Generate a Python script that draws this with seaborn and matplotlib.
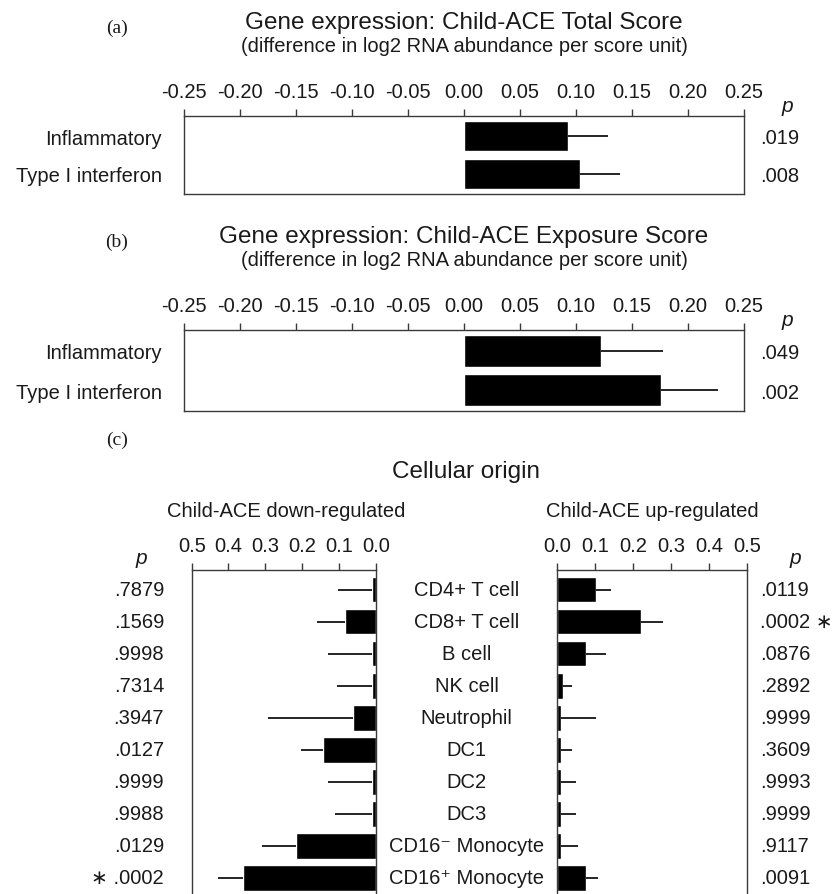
import numpy as np
import pandas as pd
import matplotlib
matplotlib.use("Agg")
import matplotlib.pyplot as plt
import matplotlib.transforms as mtransforms
import seaborn as sns

# data
gene_sets = ["Inflammatory", "Type I interferon"]

total_est = [0.093, 0.104]
total_hi = [0.129, 0.139]
total_p = [".019", ".008"]

expo_est = [0.122, 0.176]
expo_hi = [0.178, 0.227]
expo_p = [".049", ".002"]

gene_ticks = [-0.25, -0.20, -0.15, -0.10, -0.05, 0.00, 0.05, 0.10, 0.15, 0.20, 0.25]
cell_ticks = [0.0, 0.1, 0.2, 0.3, 0.4, 0.5]

cells = ["CD4+ T cell", "CD8+ T cell", "B cell", "NK cell", "Neutrophil",
         "DC1", "DC2", "DC3", "CD16\u207b Monocyte", "CD16\u207a Monocyte"]

down_est = [0.011, 0.083, 0.010, 0.010, 0.061, 0.144, 0.010, 0.010, 0.217, 0.361]
down_hi = [0.102, 0.160, 0.129, 0.106, 0.292, 0.204, 0.129, 0.111, 0.310, 0.428]
down_p = [".7879", ".1569", ".9998", ".7314", ".3947",
          ".0127", ".9999", ".9988", ".0129", "\u2217 .0002"]

up_est = [0.102, 0.220, 0.077, 0.014, 0.010, 0.010, 0.010, 0.010, 0.010, 0.077]
up_hi = [0.143, 0.278, 0.128, 0.038, 0.102, 0.038, 0.049, 0.049, 0.055, 0.108]
up_p = [".0119", ".0002 \u2217", ".0876", ".2892", ".9999",
        ".3609", ".9993", ".9999", ".9117", ".0091"]

sns.set_theme(style="white")
plt.rcParams["font.family"] = ["Liberation Sans", "DejaVu Sans"]
plt.rcParams["text.color"] = "#1a1a1a"
plt.rcParams["xtick.color"] = "#1a1a1a"
plt.rcParams["ytick.color"] = "#1a1a1a"

W, H = 832, 895
fig = plt.figure(figsize=(W / 100, H / 100), dpi=100)
fig.patch.set_facecolor("white")


def box(l, t, r, b):
    return fig.add_axes([l / W, 1 - b / H, (r - l) / W, (b - t) / H])


def ftext(x, y, s, **kw):
    fig.text(x / W, 1 - y / H, s, **kw)


def style_axes(ax):
    for sp in ax.spines.values():
        sp.set_color("#3a3a3a")
        sp.set_linewidth(1.0)
    ax.xaxis.tick_top()
    ax.tick_params(axis="x", which="both", top=True, bottom=False, direction="out",
                   length=5, width=1.0, color="#3a3a3a", labelsize=14.5, pad=6)
    ax.set_xlabel("")
    ax.set_ylabel("")


def draw_bars(ax, est, hi, cats):
    df = pd.DataFrame({"cat": cats, "est": est})
    sns.barplot(data=df, x="est", y="cat", orient="h", color="black",
                saturation=1, width=0.8, errorbar=None, ax=ax)
    err = np.array(hi) - np.array(est)
    ax.errorbar(est, np.arange(len(cats)), xerr=[np.zeros(len(cats)), err],
                fmt="none", ecolor="black", elinewidth=1.2, capsize=0)


# panels (a) and (b)
panels = [
    ("(a)", "Gene expression: Child-ACE Total Score", total_est, total_hi, total_p,
     (117, 195), 23, 47, 107),
    ("(b)", "Gene expression: Child-ACE Exposure Score", expo_est, expo_hi, expo_p,
     (331, 412), 237, 261, 320),
]
for tag, title, est, hi, pv, (top, bot), ty, sy, py in panels:
    ax = box(184, top, 744, bot)
    draw_bars(ax, est, hi, gene_sets)
    style_axes(ax)
    ax.set_xlim(-0.25, 0.25)
    ax.set_xticks(gene_ticks)
    ax.set_xticklabels([f"{v:.2f}" for v in gene_ticks])
    ax.set_ylim(1.53, -0.53)
    ax.tick_params(axis="y", length=0, labelsize=14.5, pad=16)
    tr = mtransforms.blended_transform_factory(fig.transFigure, ax.transData)
    for i, s in enumerate(pv):
        ax.text(760 / W, i + 0.05, s, transform=tr, ha="left", va="center", fontsize=14.5)
    ftext(787, py, "p", ha="center", va="center", fontsize=15, style="italic")
    ftext(117, ty + 5, tag, ha="center", va="center", fontsize=14,
          family="Liberation Serif")
    ftext(464, ty, title, ha="center", va="center", fontsize=17.5)
    ftext(464, sy, "(difference in log2 RNA abundance per score unit)",
          ha="center", va="center", fontsize=14.5)

# panel (c)
ftext(117, 440, "(c)", ha="center", va="center", fontsize=14, family="Liberation Serif")
ftext(466, 472, "Cellular origin", ha="center", va="center", fontsize=17.5)
ftext(286, 512, "Child-ACE down-regulated", ha="center", va="center", fontsize=14.5)
ftext(652, 512, "Child-ACE up-regulated", ha="center", va="center", fontsize=14.5)
ftext(141, 559, "p", ha="center", va="center", fontsize=15, style="italic")
ftext(795, 559, "p", ha="center", va="center", fontsize=15, style="italic")

ax_dn = box(191.7, 571, 375.7, 895)
draw_bars(ax_dn, down_est, down_hi, cells)
style_axes(ax_dn)
ax_dn.set_xlim(0.5, 0.0)

ax_up = box(557.3, 571, 746.7, 895)
draw_bars(ax_up, up_est, up_hi, cells)
style_axes(ax_up)
ax_up.set_xlim(0.0, 0.5)

for ax in (ax_dn, ax_up):
    ax.set_xticks(cell_ticks)
    ax.set_xticklabels([f"{v:.1f}" for v in cell_ticks])
    ax.set_ylim(9.5, -0.61)
    ax.set_yticks([])
    ax.spines["bottom"].set_visible(False)

tr_dn = mtransforms.blended_transform_factory(fig.transFigure, ax_dn.transData)
for i, (name, pl, pr) in enumerate(zip(cells, down_p, up_p)):
    ax_dn.text(466.5 / W, i, name, transform=tr_dn, ha="center", va="center", fontsize=14.5)
    ax_dn.text(164 / W, i, pl, transform=tr_dn, ha="right", va="center", fontsize=14.5)
    ax_dn.text(760 / W, i, pr, transform=tr_dn, ha="left", va="center", fontsize=14.5)

fig.savefig("out.png", dpi=100, facecolor="white")
